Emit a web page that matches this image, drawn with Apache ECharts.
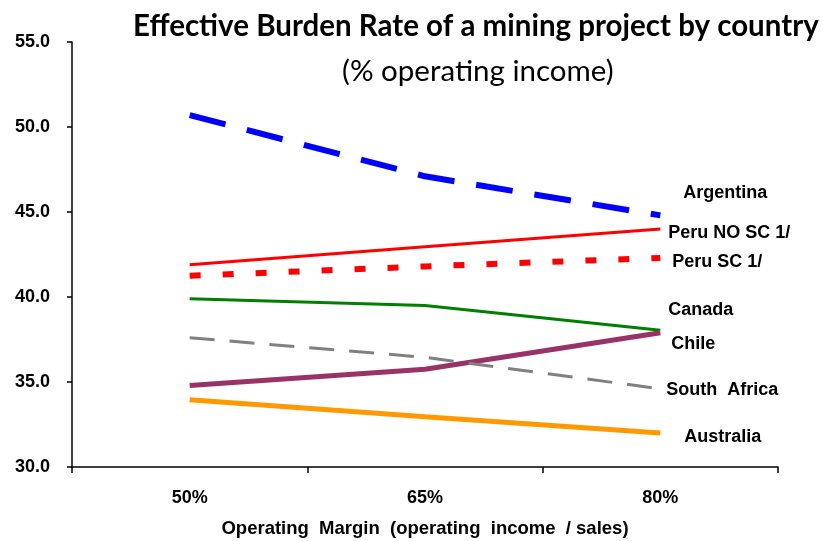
<!DOCTYPE html>
<html>
<head>
<meta charset="utf-8">
<script src="https://cdn.jsdelivr.net/npm/echarts@6/dist/echarts.min.js"></script>
<style>
  html, body { margin: 0; padding: 0; background: #fff; }
  #chart { width: 823px; height: 541px; }
</style>
</head>
<body>
<div id="chart"></div>
<script>
// categories (operating margin)
const margins = ['50%', '65%', '80%']

// effective burden rate, % of operating income
const argentina = [50.7, 47.1, 44.8]
const peruNoSc = [41.9, 42.95, 44.0]
const peruSc = [41.25, 41.8, 42.3]
const canada = [39.9, 39.5, 38.05]
const chile = [34.8, 35.75, 37.9]
const southAfrica = [37.6, 36.45, 34.6]
const australia = [33.95, 32.95, 32.0]

const yTicks = { min: 30, max: 55, step: 5 }

const FONT = 'Liberation Sans, Arial, sans-serif'
const TITLE_FONT = 'Lato, Calibri, sans-serif'

// name, data, color, width, dash, end label offset
const lines = [
  ['Argentina', argentina, '#0000ff', 6, [37, 22], [18, -22]],
  ['Peru NO SC 1/', peruNoSc, '#ff0000', 3, 'solid', [3, 4]],
  ['Peru SC 1/', peruSc, '#ff0000', 6, [11, 22], [7, 4]],
  ['Canada', canada, '#008000', 3, 'solid', [3, -20]],
  ['Chile', chile, '#993366', 5, 'solid', [6, 11]],
  ['South  Africa', southAfrica, '#808080', 3, [25, 15], [1, 1]],
  ['Australia', australia, '#ff9900', 5, 'solid', [19, 4]],
]

const chart = echarts.init(document.getElementById('chart'))

chart.setOption({
  animation: false,
  backgroundColor: '#fff',
  textStyle: { fontFamily: FONT },
  title: [
    {
      text: 'Effective Burden Rate of a mining project by country',
      left: 128,
      top: 6,
      textStyle: { fontFamily: TITLE_FONT, fontSize: 29.5, fontWeight: 'bold', color: '#000' },
    },
    {
      text: '(% operating income)',
      left: 337,
      top: 51,
      textStyle: { fontFamily: TITLE_FONT, fontSize: 29.5, fontWeight: 'normal', color: '#000' },
    },
  ],
  grid: { left: 72, right: 45, top: 42, bottom: 74, outerBoundsMode: 'none' },
  xAxis: {
    type: 'category',
    data: margins,
    boundaryGap: true,
    axisLine: { lineStyle: { color: '#000', width: 1.5 } },
    axisTick: { show: true, length: 6, lineStyle: { color: '#000', width: 1.5 } },
    axisLabel: { color: '#000', fontSize: 18, fontWeight: 'bold', margin: 22 },
    name: 'Operating  Margin  (operating  income  / sales)',
    nameLocation: 'middle',
    nameGap: 52,
    nameTextStyle: { color: '#000', fontSize: 18.5, fontWeight: 'bold' },
    splitLine: { show: false },
  },
  yAxis: {
    type: 'value',
    min: yTicks.min,
    max: yTicks.max,
    interval: yTicks.step,
    axisLine: { show: true, lineStyle: { color: '#000', width: 1.5 } },
    axisTick: { show: true, length: 5, lineStyle: { color: '#000', width: 1.5 } },
    axisLabel: {
      color: '#000',
      fontSize: 18,
      fontWeight: 'bold',
      margin: 22,
      formatter: (v) => v.toFixed(1),
    },
    splitLine: { show: false },
  },
  series: lines.map(([name, data, color, width, dash, offset]) => ({
    name,
    type: 'line',
    data,
    showSymbol: false,
    symbol: 'none',
    lineStyle: { color, width, type: dash, cap: 'butt' },
    endLabel: {
      show: true,
      formatter: name,
      color: '#000',
      fontSize: 18,
      fontWeight: 'bold',
      fontFamily: FONT,
      distance: 5,
      offset,
    },
  })),
})
</script>
</body>
</html>
